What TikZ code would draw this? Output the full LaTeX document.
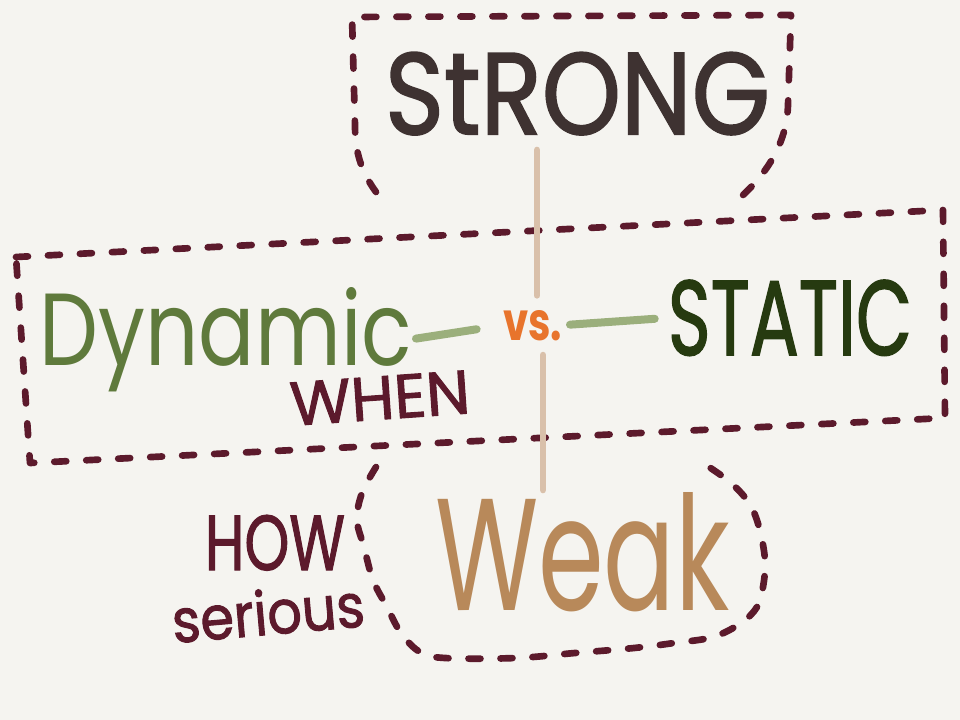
\documentclass[tikz,border=0pt]{standalone}
\usepackage{fontspec}
\usepackage{graphicx}
\setmainfont{Poppins}
\newfontfamily\medfont[FakeBold=1.6]{Poppins}
\usetikzlibrary{calc}
\definecolor{bgc}{HTML}{F5F4F0}
\definecolor{maroon}{HTML}{5C1A2C}
\definecolor{strongc}{HTML}{3E3231}
\definecolor{dync}{HTML}{5F7A3C}
\definecolor{statc}{HTML}{263A10}
\definecolor{vsc}{HTML}{E8742C}
\definecolor{weakc}{HTML}{B8895A}
\definecolor{beigec}{HTML}{D9C0AA}
\definecolor{greenc}{HTML}{9BAF7C}
\newlength\pxu
\setlength\pxu{0.75pt}
\newcommand\fitbox[3]{\resizebox{#1\pxu}{#2\pxu}{\fontsize{40pt}{44pt}\selectfont #3}}
\tikzset{
  dashframe/.style={draw=maroon, line width=5pt, line cap=round, line join=round, dash pattern=on 9pt off 15pt},
  beigeline/.style={draw=beigec, line width=5pt, line cap=round},
  greenline/.style={draw=greenc, line width=6pt, line cap=round},
  word/.style={inner sep=0pt, outer sep=0pt}
}
\begin{document}
\begin{tikzpicture}[x=0.75pt,y=-0.75pt]
\useasboundingbox (0,0) rectangle (960,720);
\fill[bgc] (0,0) rectangle (960,720);

% frames
\draw[dashframe] (376,192) .. controls (360,170) and (355,150) .. (355,125) -- (352,17) -- (791,15) -- (788,105) .. controls (787,140) and (770,170) .. (742,196);
\draw[dashframe] (16,257) -- (943,210) -- (945,418) -- (30,463) -- cycle;
\draw[dashframe] plot[smooth, tension=0.6] coordinates {(376,467) (362,493) (357,520) (364,547) (373,580) (387,607) (401,633) (420,652) (445,658) (516,658) (575,653) (634,648) (674,643) (713,637) (741,623) (757,607) (763,587) (765,560) (759,527) (749,503) (731,483) (709,467)};

% words
\node[word, anchor=south west, text=strongc] (strong) at (385,135) {\fitbox{385}{82}{\medfont StRONG}};
\node[word, anchor=north west, text=dync] (dynamic) at (40,287) {\fitbox{372}{78}{Dynamic}};
\node[word, anchor=north west, text=statc] (static) at (668,280) {\fitbox{244}{75}{\medfont STATIC}};
\node[word, anchor=north west, text=vsc] (vs) at (503,310) {\fitbox{59}{30}{\bfseries vs.}};
\node[word, text=maroon, rotate=4] (when) at (380,398) {\fitbox{180}{43}{\medfont WHEN}};
\node[word, anchor=north west, text=maroon] (how) at (205,515) {\fitbox{140}{55}{\medfont HOW}};
\node[word, text=maroon, rotate=5] (serious) at (268,612) {\fitbox{193}{46}{\medfont serious}};
\node[word, anchor=north west, text=weakc] (weak) at (435,492) {\fitbox{295}{118}{Weak}};

% connectors
\coordinate (vtop) at (537,150);
\coordinate (vbot) at (543,490);
\draw[beigeline, shorten >=11pt] (vtop) -- (vtop |- vs.north);
\draw[beigeline, shorten <=11pt] (vbot |- vs.south) -- (vbot);
\draw[greenline, shorten <=3pt, shorten >=20pt] (dynamic.east) -- (vs.west);
\draw[greenline, shorten <=6pt, shorten >=10pt] (vs.east) -- (static.west);
\end{tikzpicture}
\end{document}
